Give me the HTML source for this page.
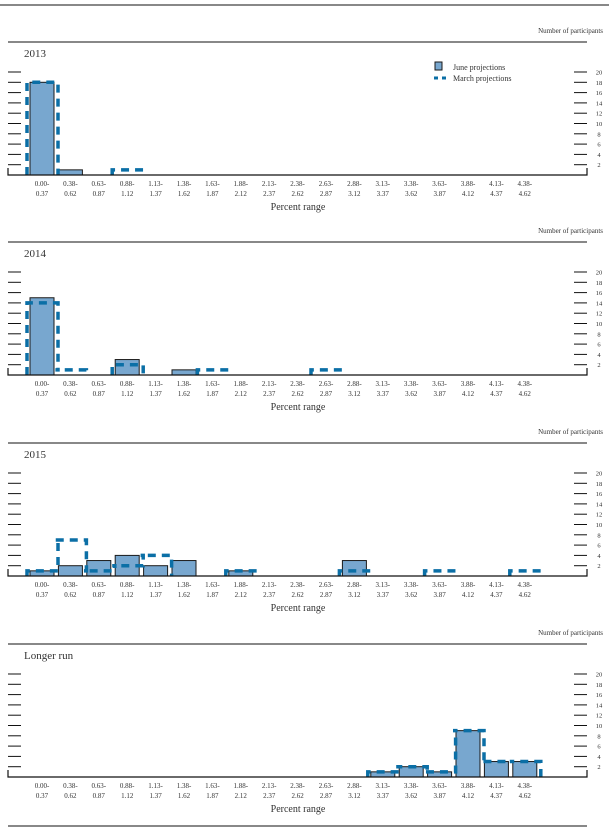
<!DOCTYPE html>
<html><head><meta charset="utf-8">
<style>
html,body{margin:0;padding:0;background:#fff;}
svg text{font-family:"Liberation Serif",serif;fill:#333;}
</style></head>
<body>
<svg id="chart" width="609" height="829" viewBox="0 0 609 829" xmlns="http://www.w3.org/2000/svg"></svg>
<script>
const categoriesTop = ["0.00-","0.38-","0.63-","0.88-","1.13-","1.38-","1.63-","1.88-","2.13-","2.38-","2.63-","2.88-","3.13-","3.38-","3.63-","3.88-","4.13-","4.38-"];
const categoriesBottom = ["0.37","0.62","0.87","1.12","1.37","1.62","1.87","2.12","2.37","2.62","2.87","3.12","3.37","3.62","3.87","4.12","4.37","4.62"];
const panelTitles = ["2013","2014","2015","Longer run"];
const june2013 = [18,1,0,0,0,0,0,0,0,0,0,0,0,0,0,0,0,0];
const march2013 = [18,0,0,1,0,0,0,0,0,0,0,0,0,0,0,0,0,0];
const june2014 = [15,0,0,3,0,1,0,0,0,0,0,0,0,0,0,0,0,0];
const march2014 = [14,1,0,2,0,0,1,0,0,0,1,0,0,0,0,0,0,0];
const june2015 = [1,2,3,4,2,3,0,1,0,0,0,3,0,0,0,0,0,0];
const march2015 = [1,7,1,2,4,0,0,1,0,0,0,1,0,0,1,0,0,1];
const juneLonger = [0,0,0,0,0,0,0,0,0,0,0,0,1,2,1,9,3,3];
const marchLonger = [0,0,0,0,0,0,0,0,0,0,0,0,1,2,1,9,3,3];
const yTicks = [2,4,6,8,10,12,14,16,18,20];

const juneSeries = [june2013, june2014, june2015, juneLonger];
const marchSeries = [march2013, march2014, march2015, marchLonger];
const NS = "http://www.w3.org/2000/svg";
const svg = document.getElementById("chart");
function mk(tag, attrs, parent){const e=document.createElementNS(NS,tag);for(const k in attrs)e.setAttribute(k,attrs[k]);(parent||svg).appendChild(e);return e;}

const top0 = mk("line",{x1:0,x2:609,y1:5,y2:5,stroke:"#111","stroke-width":1});



const offsets = [0,200,401,602];
const step = 28.4, x0 = 42, unit = 5.15;
function xc(i){return x0 + i*step;}

panelTitles.forEach((title,p)=>{
  const o = offsets[p];
  const base = 175 + o;
  function yv(v){return base - v*unit;}
  const g = mk("g",{});
  
  

  const np = mk("text",{x:603,y:33+o,"font-size":7,"text-anchor":"end"},g);
  np.textContent="Number of participants";
  
  

  const rule = mk("line",{x1:8,x2:587,y1:42+o,y2:42+o,stroke:"#111","stroke-width":1},g);
  
  

  const t = mk("text",{x:24,y:57+o,"font-size":11},g);
  t.textContent = title;
  
  

  yTicks.forEach(v=>{
    const y = yv(v);
    const l1 = mk("line",{x1:8,x2:21,y1:y,y2:y,stroke:"#111","stroke-width":1},g);
    
    
    const l2 = mk("line",{x1:574,x2:587,y1:y,y2:y,stroke:"#111","stroke-width":1},g);
    
    
    const tl = mk("text",{x:599,y:y+2.5,"font-size":6.5,"text-anchor":"middle"},g);
    tl.textContent = v;
    
    
  });

  const june = juneSeries[p];
  june.forEach((v,i)=>{
    if(v<=0) return;
    const r = mk("rect",{x:xc(i)-12,y:yv(v),width:24,height:v*unit,fill:"#78a7cf",stroke:"#1a1a1a","stroke-width":1},g);
    
    
  });

  const march = marchSeries[p];
  let d = "";
  march.forEach((v,i)=>{
    const L = xc(i)-15, R = xc(i)+16;
    const prev = i>0 ? march[i-1] : 0;
    const next = i<march.length-1 ? march[i+1] : 0;
    if(v<=0) return;
    if(prev<=0) d += "M"+L+" "+base+" L"+L+" "+yv(v);
    else d += " L"+L+" "+yv(v);
    d += " L"+R+" "+yv(v);
    if(next<=0) d += " L"+R+" "+base+" ";
    else d += " L"+R+" "+yv(next);
  });
  if(d){
    const mp = mk("path",{d:d,fill:"none",stroke:"#0b6fa6","stroke-width":3.5,"stroke-dasharray":"8,6"},g);
    
    
  }

  const ax = mk("path",{d:"M8 "+(base-7)+" L8 "+base+" L587 "+base+" L587 "+(base-7),fill:"none",stroke:"#111","stroke-width":1.2},g);
  
  

  categoriesTop.forEach((c,i)=>{
    const a = mk("text",{x:xc(i),y:186+o,"font-size":7,"text-anchor":"middle"},g);
    a.textContent = c;
    
    
    const b = mk("text",{x:xc(i),y:196+o,"font-size":7,"text-anchor":"middle"},g);
    b.textContent = categoriesBottom[i];
    
    
  });

  const xt = mk("text",{x:298,y:210+o,"font-size":10,"text-anchor":"middle"},g);
  xt.textContent = "Percent range";
  
  
});

const lg = mk("g",{});


const lr = mk("rect",{x:435,y:62,width:7,height:8,fill:"#78a7cf",stroke:"#1a1a1a","stroke-width":1},lg);


const lt1 = mk("text",{x:453,y:70,"font-size":8},lg);
lt1.textContent="June projections";


const ll = mk("line",{x1:434,x2:447,y1:78,y2:78,stroke:"#0b6fa6","stroke-width":3,"stroke-dasharray":"4,4"},lg);


const lt2 = mk("text",{x:453,y:81,"font-size":8},lg);
lt2.textContent="March projections";



const bot = mk("line",{x1:8,x2:587,y1:826,y2:826,stroke:"#111","stroke-width":1});


</script>
</body></html>
